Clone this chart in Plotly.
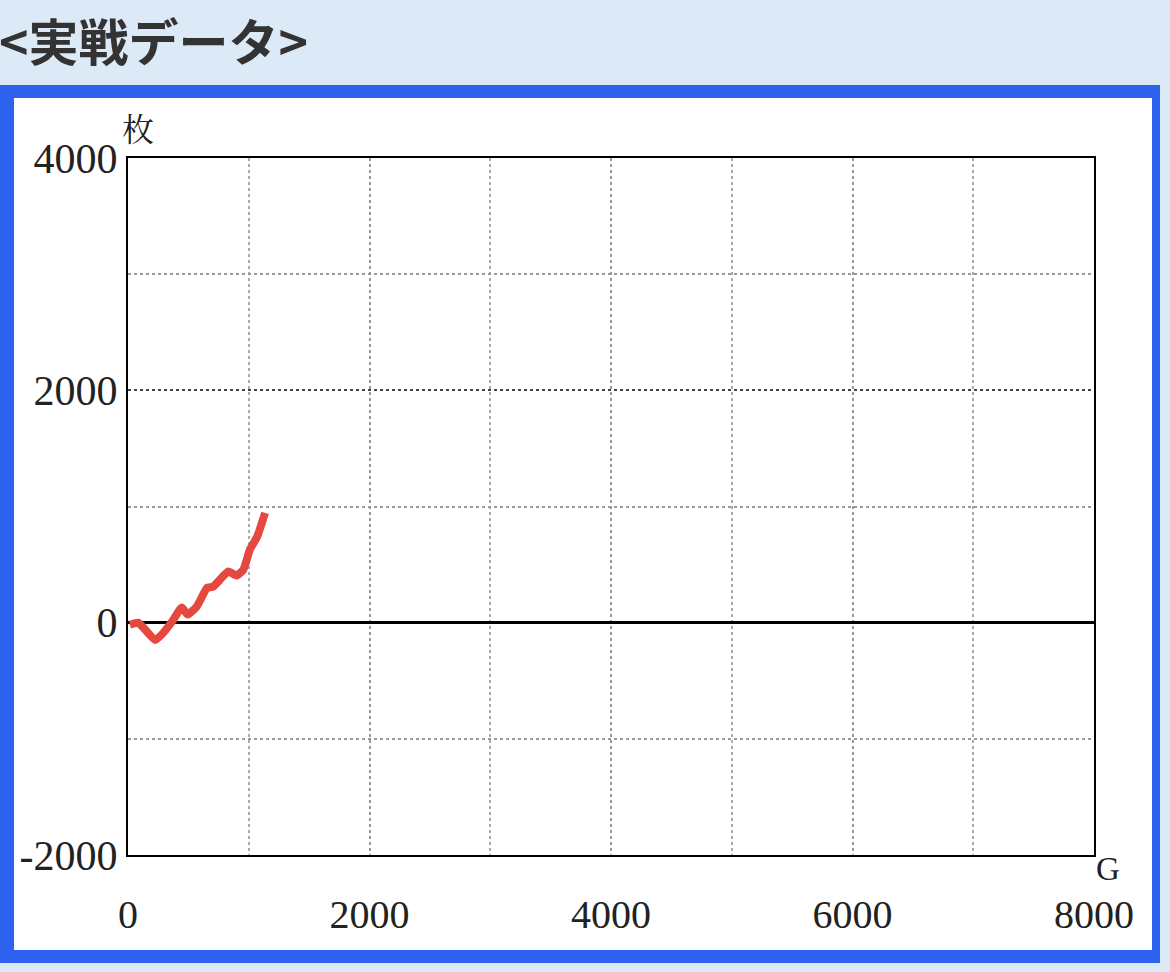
import plotly.graph_objects as go

games = [15, 85, 125, 225, 290, 365, 445, 495, 570, 655, 705, 830, 900, 955, 1010, 1070, 1135]
coins = [-17, 0, -40, -150, -90, 10, 130, 70, 140, 300, 310, 440, 405, 455, 630, 740, 945]

x_ticks = [0, 2000, 4000, 6000, 8000]
y_ticks = [-2000, 0, 2000, 4000]

W, H = 1170, 972
def px(x): return x / W
def py(y): return 1 - y / H

fig = go.Figure()
fig.add_trace(go.Scatter(x=games, y=coins, mode="lines",
                         line=dict(color="#e5483f", width=8, shape="spline", smoothing=0.4),
                         hoverinfo="skip", showlegend=False))

font_serif = "Liberation Serif, DejaVu Serif, serif"

fig.update_layout(
    width=W, height=H,
    margin=dict(l=0, r=0, t=0, b=0, pad=0),
    paper_bgcolor="#dce9f7",
    plot_bgcolor="white",
    showlegend=False,
    shapes=[
        dict(type="rect", xref="paper", yref="paper", x0=px(0), x1=px(1160), y0=py(963), y1=py(85),
             fillcolor="#2d62ee", line=dict(width=0), layer="below"),
        dict(type="rect", xref="paper", yref="paper", x0=px(14), x1=px(1152), y0=py(950), y1=py(98),
             fillcolor="white", line=dict(width=0), layer="below"),
    ],
    annotations=[
        dict(text="<b><実戦データ></b>", xref="paper", yref="paper", x=px(-3), y=py(39),
             xanchor="left", yanchor="middle", showarrow=False,
             font=dict(family="Noto Sans CJK JP", size=50, color="#333333")),
        dict(text="枚", xref="paper", yref="paper", x=px(138), y=py(127),
             xanchor="center", yanchor="middle", showarrow=False,
             font=dict(family="Noto Serif CJK JP, Noto Sans CJK JP", size=32, color="#222222")),
        dict(text="G", xref="paper", yref="paper", x=px(1108), y=py(869),
             xanchor="center", yanchor="middle", showarrow=False,
             font=dict(family=font_serif, size=33, color="#222222")),
    ],
    xaxis=dict(
        domain=[px(128), px(1094)], range=[0, 8000], automargin=False, fixedrange=True,
        tickvals=x_ticks, ticktext=[str(v) for v in x_ticks],
        showgrid=True, gridcolor="#999999", griddash="dot", gridwidth=1.5,
        minor=dict(dtick=1000, showgrid=True, gridcolor="#aaaaaa", griddash="dot", gridwidth=1.5),
        zeroline=False, showline=True, linecolor="black", linewidth=2, mirror=True,
        ticks="", ticklabelstandoff=23,
        tickfont=dict(family=font_serif, size=40, color="#222222"),
    ),
    yaxis=dict(
        domain=[py(855), py(158)], range=[-2000, 4000], automargin=False, fixedrange=True,
        tickvals=y_ticks, ticktext=[str(v) for v in y_ticks],
        showgrid=True, gridcolor="#444444", griddash="dot", gridwidth=1.5,
        minor=dict(dtick=1000, showgrid=True, gridcolor="#999999", griddash="dot", gridwidth=1.5),
        zeroline=True, zerolinecolor="black", zerolinewidth=3,
        showline=True, linecolor="black", linewidth=2, mirror=True,
        ticks="", ticklabelstandoff=0,
        tickfont=dict(family=font_serif, size=42, color="#222222"),
    ),
)

fig.write_html("out.html", config={"displayModeBar": False},
               post_script="document.body.style.margin='0';document.body.style.overflow='hidden';")
